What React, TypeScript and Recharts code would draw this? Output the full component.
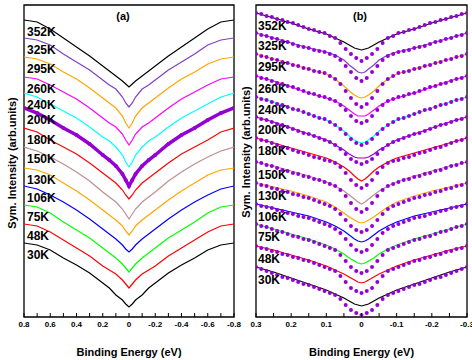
import { Line, LineChart, ReferenceArea, XAxis, YAxis } from 'recharts';

const temps = ['352K', '325K', '295K', '260K', '240K', '200K', '180K', '150K', '130K', '106K', '75K', '48K', '30K'];
const colors = ['#000000', '#8040c0', '#ffa500', '#ff00ff', '#00ffff', '#9400d3', '#ff0000', '#bc8f8f', '#ffa500', '#0000ff', '#00ff00', '#ff0000', '#000000'];
const dotColor = '#9400d3';

// (a) symmetrized spectra, one half (E >= 0), offset in arb. units
const energyA = [0.8, 0.7, 0.6, 0.5, 0.4, 0.3, 0.2, 0.15, 0.1, 0.05, 0.025, 0];
const spectraA = [
  [300, 298, 291, 282, 273, 264, 254, 249, 244, 239, 236, 233],
  [282, 280, 275, 266, 258, 250, 240, 235, 231, 223, 217, 213],
  [263, 261, 256, 248, 241, 232, 222, 217, 212, 204, 197, 192],
  [243, 241, 235, 228, 221, 212, 202, 197, 193, 186, 180, 175],
  [227, 223, 216, 209, 202, 193, 183, 179, 173, 165, 158, 153],
  [212, 207, 200, 192, 185, 176, 165, 160, 154, 146, 140, 134],
  [192, 188, 180, 173, 166, 157, 147, 142, 137, 130, 125, 121],
  [173, 169, 163, 156, 148, 139, 128, 123, 118, 111, 106, 101],
  [152, 150, 145, 137, 129, 120, 110, 105, 100, 94, 89, 85],
  [134, 131, 125, 118, 110, 101, 91, 86, 81, 75, 71, 68],
  [115, 113, 107, 98, 90, 82, 72, 67, 62, 56, 52, 48],
  [96, 94, 88, 80, 72, 64, 54, 50, 46, 40, 36, 32],
  [77, 75, 70, 62, 55, 47, 37, 32, 25, 20, 16, 13],
];

// (b) fitted curves (lines)
const energyFitB = [0.3, 0.25, 0.2, 0.15, 0.1, 0.075, 0.05, 0.035, 0.02, 0.01, 0];
const fitB = [
  [307, 302, 297, 291, 286, 282, 278, 275, 272, 271, 270],
  [287, 282, 277, 272, 268, 265, 260, 255, 251, 248, 247],
  [266, 261, 256, 251, 246, 241, 234, 229, 225, 223, 222],
  [244, 239, 233, 227, 222, 219, 214, 210, 206, 204, 204],
  [223, 218, 212, 206, 200, 195, 189, 184, 180, 178, 177],
  [203, 198, 192, 186, 180, 175, 170, 166, 163, 162, 162],
  [182, 177, 172, 167, 162, 158, 153, 149, 144, 141, 139],
  [158, 154, 149, 144, 138, 134, 129, 125, 121, 118, 116],
  [137, 133, 129, 124, 118, 113, 107, 103, 100, 98, 97],
  [116, 112, 108, 104, 98, 94, 89, 85, 81, 79, 78],
  [96, 91, 86, 81, 75, 71, 66, 62, 59, 57, 56],
  [74, 70, 65, 60, 54, 50, 46, 43, 40, 38, 37],
  [53, 48, 42, 36, 30, 26, 22, 19, 16, 15, 14],
];

// (b) measured data (dots)
const energyDotsB = [0.3, 0.285, 0.27, 0.255, 0.24, 0.225, 0.21, 0.195, 0.18, 0.165, 0.15, 0.135, 0.12, 0.105, 0.09, 0.075, 0.06, 0.045, 0.03, 0.015, 0];
const dotsB = [
  [307, 306, 304, 303, 301, 300, 298, 297, 295, 293, 291, 290, 288, 287, 284, 282, 277, 271, 266, 262, 259],
  [287, 285, 284, 282, 281, 279, 278, 276, 274, 273, 272, 270, 269, 268, 266, 264, 260, 254, 248, 242, 239],
  [266, 264, 263, 261, 260, 258, 257, 255, 254, 252, 251, 249, 248, 247, 244, 241, 236, 229, 222, 216, 213],
  [244, 242, 241, 239, 237, 236, 234, 233, 231, 229, 227, 226, 224, 223, 221, 219, 215, 210, 204, 199, 197],
  [223, 221, 220, 218, 216, 215, 213, 211, 210, 208, 206, 204, 202, 201, 198, 195, 191, 186, 181, 177, 175],
  [203, 201, 200, 198, 196, 195, 193, 191, 189, 187, 186, 184, 182, 180, 178, 175, 171, 166, 161, 158, 156],
  [182, 180, 179, 177, 175, 173, 172, 170, 168, 167, 165, 163, 162, 160, 159, 157, 153, 147, 140, 135, 132],
  [158, 157, 155, 154, 152, 150, 149, 147, 146, 144, 143, 141, 140, 138, 136, 134, 130, 124, 117, 111, 108],
  [137, 135, 134, 132, 131, 129, 128, 126, 125, 123, 122, 120, 118, 116, 114, 111, 106, 100, 94, 90, 88],
  [116, 114, 113, 112, 110, 109, 107, 106, 104, 103, 102, 100, 98, 96, 94, 91, 87, 81, 75, 70, 68],
  [96, 94, 93, 91, 89, 88, 86, 84, 83, 81, 80, 78, 76, 74, 72, 70, 65, 59, 53, 49, 47],
  [74, 72, 71, 69, 68, 66, 65, 63, 62, 60, 59, 57, 55, 53, 51, 49, 44, 38, 32, 29, 27],
  [53, 51, 49, 47, 45, 43, 42, 40, 38, 36, 35, 33, 31, 29, 27, 25, 21, 15, 10, 7, 5],
];

const ticksA = [0.8, 0.7, 0.6, 0.5, 0.4, 0.3, 0.2, 0.1, 0, -0.1, -0.2, -0.3, -0.4, -0.5, -0.6, -0.7, -0.8];
const tickLabelsA = ['0.8', '', '0.6', '', '0.4', '', '0.2', '', '0', '', '-0.2', '', '-0.4', '', '-0.6', '', '-0.8'];
const ticksB = [0.3, 0.25, 0.2, 0.15, 0.1, 0.05, 0, -0.05, -0.1, -0.15, -0.2, -0.25, -0.3];
const tickLabelsB = ['0.3', '', '0.2', '', '0.1', '', '0', '', '-0.1', '', '-0.2', '', '-0.3'];

const yDomain = [3, 315];
const bold = { fontWeight: 700, fill: '#000' };

// spectra are symmetrized about E = 0, so the other half mirrors
function symmetrize(energy: number[], values: number[]) {
  const left = energy.map((e, i) => ({ e, v: values[i] }));
  const right = energy
    .slice(0, -1)
    .map((e, i) => ({ e: -e, v: values[i] }))
    .reverse();
  return [...left, ...right];
}

function makeTick(ticks: number[], labels: string[]) {
  return function Tick(props: any) {
    const { x, y, payload } = props;
    let idx = ticks.indexOf(payload.value);
    if (idx < 0) idx = payload.index;
    const label = labels[idx] ?? '';
    return (
      <g>
        <line x1={x} y1={y} x2={x} y2={y - 4} stroke="#000" strokeWidth={1} />
        {label && (
          <text x={x} y={y + 10} textAnchor="middle" fontSize={8} {...bold}>
            {label}
          </text>
        )}
      </g>
    );
  };
}

// panel tag and y title, placed relative to the plot frame
function frameLabel(tag: string, tagDx: number, titleDx: number, titleDy: number) {
  return (props: any) => {
    const vb = props.viewBox ?? { x: 0, y: 0, width: 0, height: 0 };
    const tx = vb.x + vb.width / 2 + tagDx;
    const ty = vb.y + 11;
    const cx = vb.x + titleDx;
    const cy = vb.y + vb.height / 2 + titleDy;
    return (
      <g>
        <text x={tx} y={ty} dy="0.35em" textAnchor="middle" fontSize={11} {...bold}>
          {tag}
        </text>
        <text x={cx} y={cy} dy="0.35em" textAnchor="middle" fontSize={11} transform={`rotate(-90 ${cx} ${cy})`} {...bold}>
          Sym. Intensity (arb.units)
        </text>
      </g>
    );
  };
}

function tempLabel(text: string, dx: number, dy: number) {
  return (props: any) => {
    if (props.index !== 0) return null;
    const x = props.viewBox?.x ?? props.x;
    const y = props.viewBox?.y ?? props.y;
    return (
      <text x={x + dx} y={y + dy} fontSize={12} {...bold}>
        {text}
      </text>
    );
  };
}

function Frame({ domain, ticks, labels, tag, tagDx, titleDx, titleDy }: any) {
  return [
    <XAxis
      key="x"
      xAxisId="x"
      dataKey="e"
      type="number"
      domain={domain}
      reversed
      ticks={ticks}
      interval={0}
      height={43}
      tickSize={0}
      tickMargin={0}
      tickLine={false}
      axisLine={false}
      tick={makeTick(ticks, labels)}
      allowDataOverflow
      label={{ value: 'Binding Energy (eV)', position: 'insideBottom', offset: 4, style: { fontSize: 11, fontWeight: 700, fill: '#000' } }}
    />,
    <YAxis key="y" yAxisId="y" type="number" domain={yDomain} width={0} tick={false} tickLine={false} axisLine={false} allowDataOverflow />,
    <ReferenceArea
      key="frame"
      xAxisId="x"
      yAxisId="y"
      x1={domain[0]}
      x2={domain[1]}
      y1={yDomain[0]}
      y2={yDomain[1]}
      stroke="#000"
      strokeWidth={1.3}
      fill="none"
      fillOpacity={0}
      ifOverflow="visible"
      label={frameLabel(tag, tagDx, titleDx, titleDy)}
    />,
  ];
}

export default function App() {
  return (
    <div
      style={{
        position: 'absolute',
        left: 0,
        top: 0,
        width: 472,
        height: 360,
        background: '#fff',
        overflow: 'hidden',
        fontFamily: '"Liberation Sans", Arial, sans-serif',
      }}
    >
      <div style={{ position: 'absolute', left: 0, top: 0 }}>
        <LineChart width={250} height={360} margin={{ top: 5, right: 16, bottom: 0, left: 24 }}>
          {Frame({ domain: [-0.8, 0.8], ticks: ticksA, labels: tickLabelsA, tag: '(a)', tagDx: -6, titleDx: -12, titleDy: 2 })}
          {spectraA.map((vals, i) => (
            <Line
              key={temps[i]}
              xAxisId="x"
              yAxisId="y"
              data={symmetrize(energyA, vals)}
              dataKey="v"
              type="linear"
              stroke={colors[i]}
              strokeWidth={temps[i] === '200K' ? 3.5 : 1.2}
              dot={temps[i] === '200K' ? { r: 2, fill: dotColor, stroke: 'none' } : false}
              activeDot={false}
              label={tempLabel(temps[i], 3, 16)}
              isAnimationActive={false}
            />
          ))}
        </LineChart>
      </div>
      <div style={{ position: 'absolute', left: 236, top: 0 }}>
        <LineChart width={236} height={360} margin={{ top: 5, right: 5, bottom: 0, left: 20 }}>
          {Frame({ domain: [-0.3, 0.3], ticks: ticksB, labels: tickLabelsB, tag: '(b)', tagDx: -1.5, titleDx: -10, titleDy: -9 })}
          {fitB.map((vals, i) => (
            <Line
              key={'fit' + temps[i]}
              xAxisId="x"
              yAxisId="y"
              data={symmetrize(energyFitB, vals)}
              dataKey="v"
              type="linear"
              stroke={colors[i]}
              strokeWidth={1.2}
              dot={false}
              activeDot={false}
              isAnimationActive={false}
            />
          ))}
          {dotsB.map((vals, i) => (
            <Line
              key={'dots' + temps[i]}
              xAxisId="x"
              yAxisId="y"
              data={symmetrize(energyDotsB, vals)}
              dataKey="v"
              type="linear"
              stroke="none"
              dot={{ r: 2, fill: dotColor, stroke: 'none' }}
              activeDot={false}
              label={tempLabel(temps[i], 2, 17)}
              isAnimationActive={false}
            />
          ))}
        </LineChart>
      </div>
    </div>
  );
}
